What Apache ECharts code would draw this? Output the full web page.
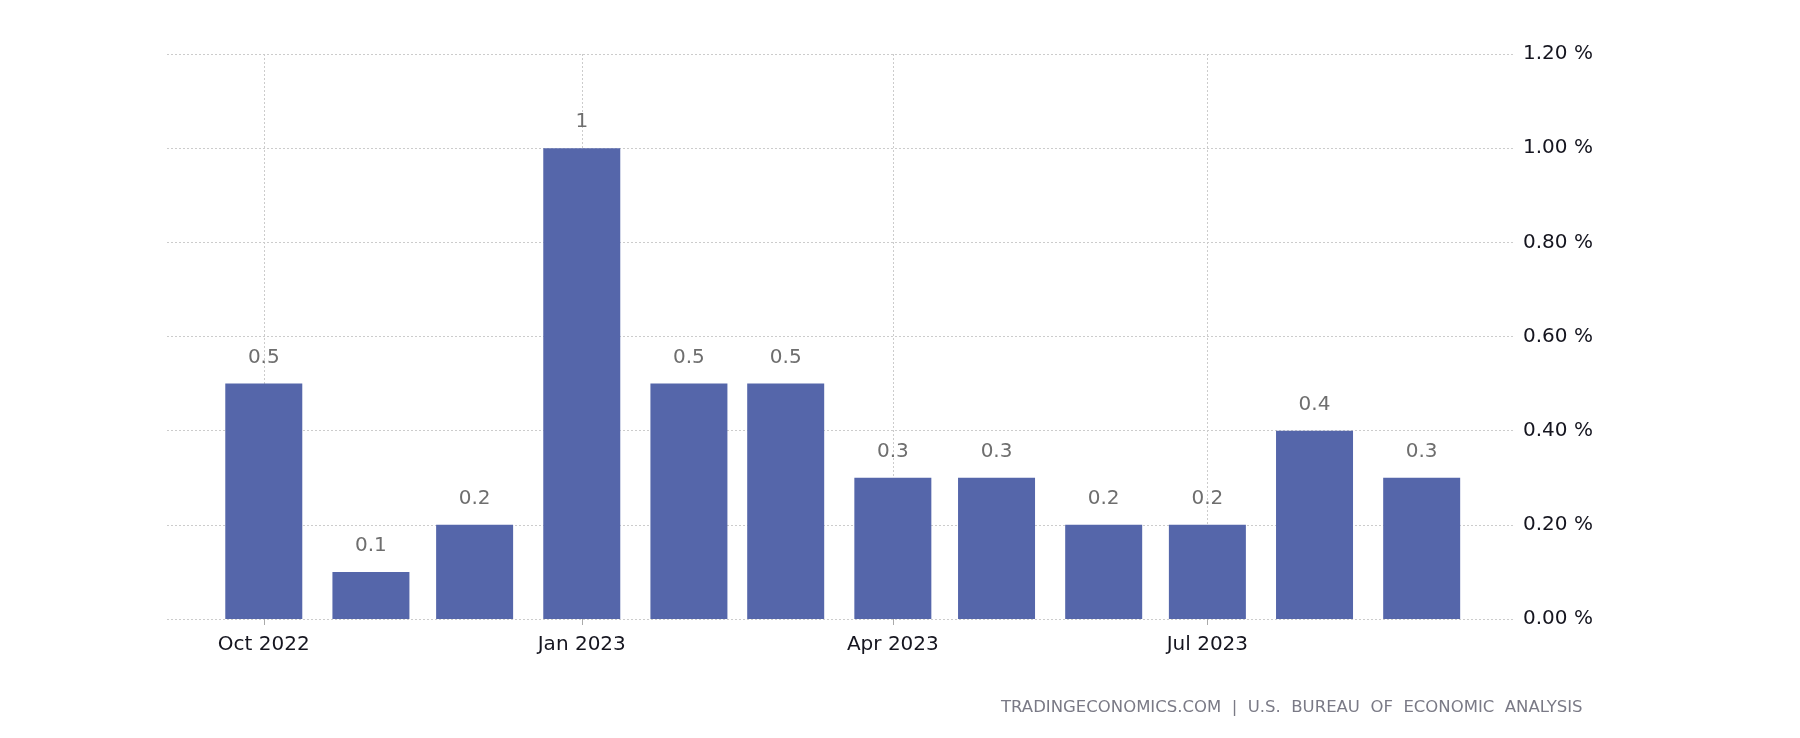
<!DOCTYPE html>
<html>
<head>
<meta charset="utf-8">
<script src="https://cdn.jsdelivr.net/npm/echarts@6/dist/echarts.min.js"></script>
<style>
  html, body { margin: 0; padding: 0; background: #ffffff; }
  #chart { width: 1800px; height: 738px; }
</style>
</head>
<body>
<div id="chart"></div>
<script>
// Data
const months = ['2022-10', '2022-11', '2022-12', '2023-01', '2023-02', '2023-03',
                '2023-04', '2023-05', '2023-06', '2023-07', '2023-08', '2023-09'];
const values = [0.5, 0.1, 0.2, 1, 0.5, 0.5, 0.3, 0.3, 0.2, 0.2, 0.4, 0.3];
const xTickMonths = ['2022-10', '2023-01', '2023-04', '2023-07'];
const yTicks = [0, 0.2, 0.4, 0.6, 0.8, 1.0, 1.2];
const monthNames = ['Jan', 'Feb', 'Mar', 'Apr', 'May', 'Jun', 'Jul', 'Aug', 'Sep', 'Oct', 'Nov', 'Dec'];
const sourceText = 'TRADINGECONOMICS.COM  |  U.S.  BUREAU  OF  ECONOMIC  ANALYSIS';

function ts(ym, day) {
  const p = ym.split('-');
  return Date.UTC(+p[0], +p[1] - 1, day || 1);
}

const seriesData = months.map((m, i) => [ts(m), values[i]]);
const tickValues = xTickMonths.map(m => ts(m));

const chart = echarts.init(document.getElementById('chart'), null, { renderer: 'canvas' });

const FONT = 'DejaVu Sans';

chart.setOption({
  animation: false,
  backgroundColor: '#ffffff',
  grid: { left: 167, right: 285, top: 54, bottom: 119, containLabel: false },
  xAxis: {
    type: 'value',
    min: Date.UTC(2022, 8, 3),
    max: Date.UTC(2023, 8, 28),
    axisLine: { show: false },
    axisTick: {
      show: true,
      customValues: tickValues,
      length: 6,
      lineStyle: { color: '#aaaaaa', width: 1 }
    },
    axisLabel: {
      customValues: tickValues,
      showMinLabel: true,
      showMaxLabel: true,
      color: '#15151f',
      fontFamily: FONT,
      fontSize: 20,
      margin: 16,
      formatter: function (v) {
        const d = new Date(v);
        return monthNames[d.getUTCMonth()] + ' ' + d.getUTCFullYear();
      }
    },
    splitLine: {
      show: true,
      lineStyle: { color: '#cccccc', type: [2, 2], width: 1 }
    }
  },
  yAxis: {
    type: 'value',
    position: 'right',
    min: yTicks[0],
    max: yTicks[yTicks.length - 1],
    interval: 0.2,
    axisLine: { show: false },
    axisTick: { show: false },
    axisLabel: {
      color: '#15151f',
      fontFamily: FONT,
      fontSize: 20,
      margin: 8,
      formatter: function (v) { return v.toFixed(2) + ' %'; }
    },
    splitLine: {
      show: true,
      lineStyle: { color: '#cccccc', type: [2, 2], width: 1 }
    }
  },
  series: [{
    type: 'bar',
    data: seriesData,
    barWidth: 77,
    itemStyle: { color: '#5566aa' },
    label: {
      show: true,
      position: 'top',
      distance: 16,
      color: '#6e6e6e',
      fontFamily: FONT,
      fontSize: 20,
      formatter: function (p) { return String(p.value[1]); }
    }
  }],
  graphic: [{
    type: 'text',
    left: 1001,
    top: 699,
    style: {
      text: sourceText,
      fill: '#7a7a86',
      font: '16.5px "' + FONT + '"'
    }
  }]
});
</script>
</body>
</html>
